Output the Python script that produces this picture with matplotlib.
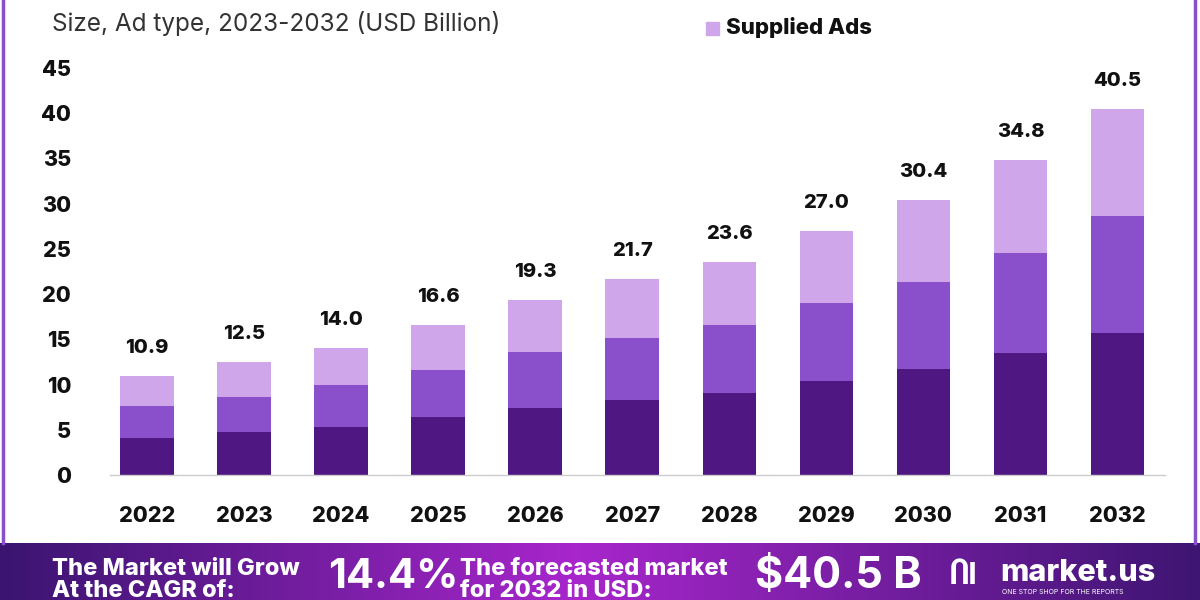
import numpy as np
import matplotlib.pyplot as plt
from matplotlib.patches import Rectangle
from matplotlib.lines import Line2D

years = ['2022', '2023', '2024', '2025', '2026', '2027', '2028', '2029', '2030', '2031', '2032']
bottom_seg = [4.1, 4.75, 5.3, 6.4, 7.4, 8.3, 9.1, 10.4, 11.7, 13.5, 15.7]
middle_seg = [3.5, 3.85, 4.7, 5.2, 6.2, 6.9, 7.5, 8.6, 9.6, 11.1, 12.9]
totals = [10.9, 12.5, 14.0, 16.6, 19.3, 21.7, 23.6, 27.0, 30.4, 34.8, 40.5]
yticks = [0, 5, 10, 15, 20, 25, 30, 35, 40, 45]

top_seg = [t - b - m for t, b, m in zip(totals, bottom_seg, middle_seg)]

c_dark = '#4e1782'
c_mid = '#8a4fcb'
c_light = '#cfa6ea'

plt.rcParams['font.family'] = ['Inter', 'DejaVu Sans']
HW = 'heavy'

fig = plt.figure(figsize=(12, 6), dpi=100)
fig.patch.set_facecolor('white')

# main chart
ax = fig.add_axes([110 / 1200, 1 - 475 / 600, 1055 / 1200, 407 / 600])
x = np.arange(len(years))
w = 0.55
ax.bar(x, bottom_seg, w, color=c_dark)
ax.bar(x, middle_seg, w, bottom=bottom_seg, color=c_mid)
ax.bar(x, top_seg, w, bottom=[b + m for b, m in zip(bottom_seg, middle_seg)], color=c_light)
for i, t in enumerate(totals):
    ax.annotate(f'{t:.1f}', (x[i], t), xytext=(0, 28), textcoords='offset pixels',
                ha='center', va='center', fontsize=14.5, fontweight=HW, color='#111111')

ax.set_xlim(-0.38, 10.49)
ax.set_ylim(0, 45)
ax.set_yticks(yticks)
ax.set_yticklabels([str(v) for v in yticks], fontsize=15.5, fontweight=HW, color='#111111')
ax.set_xticks(x)
ax.set_xticklabels(years, fontsize=15.5, fontweight=HW, color='#111111')
ax.tick_params(axis='y', length=0, pad=28)
ax.tick_params(axis='x', length=0, pad=22)
for s in ['top', 'right', 'left']:
    ax.spines[s].set_visible(False)
ax.spines['bottom'].set_color('#cccccc')
ax.spines['bottom'].set_linewidth(1)

# subtitle and legend
fig.text(52 / 1200, 1 - 23 / 600, 'Size, Ad type, 2023-2032 (USD Billion)', fontsize=17.5,
         color='#333333', va='center', ha='left')
fig.patches.append(Rectangle((706 / 1200, 1 - 35 / 600), 13 / 1200, 13 / 600,
                             transform=fig.transFigure, color=c_light))
fig.text(726 / 1200, 1 - 27 / 600, 'Supplied Ads', fontsize=16, fontweight=HW,
         color='#111111', va='center', ha='left')

# frame lines
fig.add_artist(Line2D([3 / 1200, 3 / 1200], [1 - 543 / 600, 1], color='#8a4fcb', lw=2.5))
fig.add_artist(Line2D([1195 / 1200, 1195 / 1200], [1 - 543 / 600, 1], color='#8a4fcb', lw=2.5))

# bottom banner with gradient
bx = fig.add_axes([0, 0, 1, 57 / 600])
bx.set_axis_off()
pos = np.linspace(0, 1, 400)
left = np.array([0x3a, 0x14, 0x70]) / 255
mid = np.array([0xa8, 0x26, 0xcc]) / 255
right = np.array([0x3e, 0x15, 0x72]) / 255
cols = []
for p in pos:
    if p < 0.48:
        f = p / 0.48
        cols.append(left * (1 - f) + mid * f)
    else:
        f = (p - 0.48) / 0.52
        cols.append(mid * (1 - f) + right * f)
grad = np.array(cols)[None, :, :]
bx.imshow(grad, aspect='auto', extent=[0, 1200, 0, 57])
bx.set_xlim(0, 1200)
bx.set_ylim(0, 57)

bx.text(52, 25, 'The Market will Grow', color='white', fontsize=17, fontweight=HW, va='baseline')
bx.text(52, 3, 'At the CAGR of:', color='white', fontsize=17, fontweight=HW, va='baseline')
bx.text(328, 12, '14.4%', color='white', fontsize=30, fontweight='bold', va='baseline')
bx.text(460, 25, 'The forecasted market', color='white', fontsize=17, fontweight=HW, va='baseline')
bx.text(460, 3, 'for 2032 in USD:', color='white', fontsize=17, fontweight=HW, va='baseline')
bx.text(755, 12, '$40.5 B', color='white', fontsize=31, fontweight='bold', va='baseline')
bx.text(950, 24, 'ႶI', color='white', fontsize=22, fontweight='bold', va='center')
bx.text(1000, 27, 'market.us', color='white', fontsize=22, fontweight=HW, va='center')
bx.text(1002, 8, 'ONE STOP SHOP FOR THE REPORTS', color='white', fontsize=5, va='center')

fig.savefig('out.png', dpi=100)
